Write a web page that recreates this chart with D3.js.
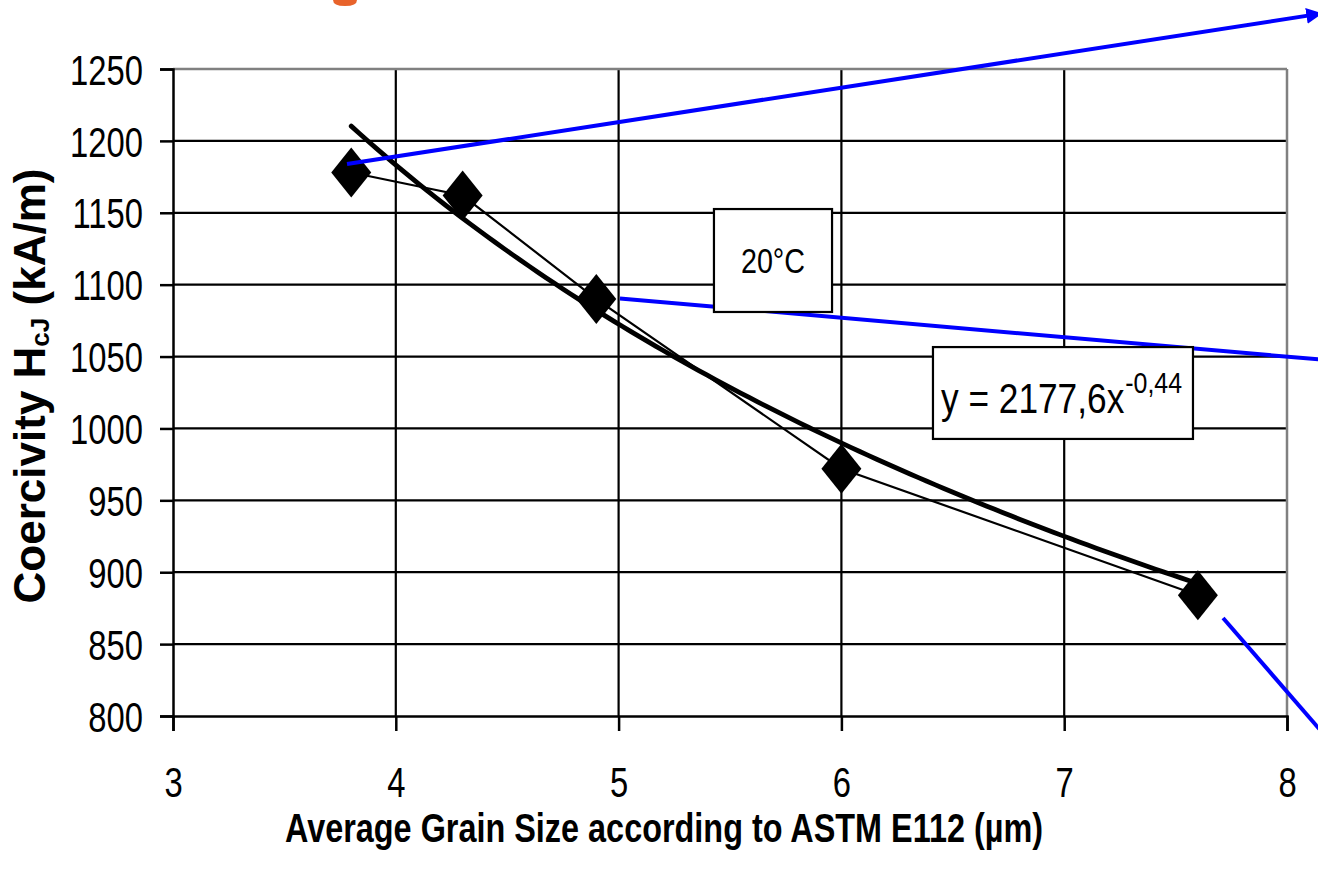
<!DOCTYPE html>
<html>
<head>
<meta charset="utf-8">
<script src="https://cdn.jsdelivr.net/npm/d3@7"></script>
<style>
  html, body { margin: 0; padding: 0; background: #fff; }
  svg { display: block; }
  text { font-family: "Liberation Sans", Arial, sans-serif; }
</style>
</head>
<body>
<svg id="chart" width="1318" height="886"></svg>
<script>
// Measured coercivity vs. average grain size (20 °C)
const grainSize = [3.8, 4.3, 4.9, 6.0, 7.6];
const coercivity = [1178, 1162, 1090, 972, 884];

// Power-law fit shown in the label: y = 2177.6 · x^-0.44
const fitA = 2177.6;
const fitB = -0.44;

// Axis ticks
const xTicks = [3, 4, 5, 6, 7, 8];
const yTicks = [800, 850, 900, 950, 1000, 1050, 1100, 1150, 1200, 1250];

// Callout arrows leading out of the chart (start and end in data units)
const callouts = [
  { from: [3.781, 1183.9], to: [8.13, 1288], head: true },
  { from: [5.006, 1090.4], to: [8.145, 1048.0], head: false },
  { from: [7.713, 868.2], to: [8.145, 791.0], head: false }
];

// Label boxes (corners in data units)
const labelTemp = { x0: 5.428, x1: 5.958, y0: 1152.6, y1: 1081.0, text: "20°C" };
const labelFit = { x0: 6.411, x1: 7.578, y0: 1056.6, y1: 992.7 };

const svg = d3.select("#chart");
const plotL = 173, plotR = 1287, plotT = 69, plotB = 716;

const x = d3.scaleLinear().domain([3, 8]).range([plotL, plotR]);
const y = d3.scaleLinear().domain([800, 1250]).range([plotB, plotT]);

// Squeeze text horizontally to a narrow face
function condense(sel, f) {
  sel.each(function () {
    const n = this.getComputedTextLength();
    this.setAttribute("textLength", n * f);
    this.setAttribute("lengthAdjust", "spacingAndGlyphs");
  });
}

// Bottom edge of the orange heading that sits above the chart
svg.append("path")
  .attr("d", "M333,0 Q333,6 345,6 Q357,6 357,0 Z")
  .attr("fill", "#e8632b");

// Grid
const grid = svg.append("g");
grid.selectAll("line.h")
  .data(yTicks.filter(d => d > 800 && d < 1250))
  .join("line")
  .attr("x1", plotL).attr("x2", plotR)
  .attr("y1", d => y(d)).attr("y2", d => y(d))
  .attr("stroke", "#000").attr("stroke-width", 2.2);
grid.selectAll("line.v")
  .data(xTicks.filter(d => d > 3 && d < 8))
  .join("line")
  .attr("y1", plotT).attr("y2", plotB)
  .attr("x1", d => x(d)).attr("x2", d => x(d))
  .attr("stroke", "#000").attr("stroke-width", 2.2);

// Plot-area frame (top and right in grey)
svg.append("line").attr("x1", plotL).attr("x2", plotR).attr("y1", plotT).attr("y2", plotT)
  .attr("stroke", "#808080").attr("stroke-width", 2.5);
svg.append("line").attr("x1", plotR).attr("x2", plotR).attr("y1", plotT).attr("y2", plotB)
  .attr("stroke", "#808080").attr("stroke-width", 2.5);

// Axes
const xAxis = d3.axisBottom(x).tickValues(xTicks).tickSize(15).tickPadding(36).tickFormat(d3.format("d"));
const yAxis = d3.axisLeft(y).tickValues(yTicks).tickSize(13).tickPadding(17).tickFormat(d3.format("d"));

const gx = svg.append("g").attr("transform", `translate(0,${plotB})`).call(xAxis);
const gy = svg.append("g").attr("transform", `translate(${plotL},0)`).call(yAxis);
[gx, gy].forEach(g => {
  g.attr("font-family", null).attr("font-size", null);
  g.select(".domain").attr("stroke", "#000").attr("stroke-width", 2.5);
  g.selectAll(".tick line").attr("stroke", "#000").attr("stroke-width", 2.5);
  g.selectAll(".tick text")
    .attr("font-size", 42)
    .attr("fill", "#000");
});
gx.selectAll(".tick text").attr("dy", "0.71em");
gy.selectAll(".tick text").attr("dy", "0.36em");
condense(gx.selectAll(".tick text"), 0.78);
condense(gy.selectAll(".tick text"), 0.78);

// Axis titles
const xTitle = svg.append("text")
  .attr("x", 664).attr("y", 842)
  .attr("text-anchor", "middle")
  .attr("font-size", 40).attr("font-weight", "bold")
  .text("Average Grain Size according to ASTM E112 (µm)");
condense(xTitle, 0.81);

const yTitle = svg.append("text")
  .attr("transform", "translate(45,386) rotate(-90)")
  .attr("text-anchor", "middle")
  .attr("font-size", 44).attr("font-weight", "bold");
yTitle.append("tspan").text("Coercivity H");
yTitle.append("tspan").attr("font-size", 26).attr("dy", 4).text("cJ");
yTitle.append("tspan").attr("dy", -4).text(" (kA/m)");

// Measured series joined by a thin line
const pts = grainSize.map((g, i) => [g, coercivity[i]]);
svg.append("path")
  .datum(pts)
  .attr("fill", "none")
  .attr("stroke", "#000").attr("stroke-width", 2.2)
  .attr("d", d3.line().x(d => x(d[0])).y(d => y(d[1])));

// Power trend line over the measured range
const fitPts = d3.range(0, 101).map(i => {
  const g = grainSize[0] + (grainSize[grainSize.length - 1] - grainSize[0]) * i / 100;
  return [g, fitA * Math.pow(g, fitB)];
});
svg.append("path")
  .datum(fitPts)
  .attr("fill", "none")
  .attr("stroke", "#000").attr("stroke-width", 4.8)
  .attr("stroke-linecap", "round")
  .attr("d", d3.line().x(d => x(d[0])).y(d => y(d[1])));

// Diamond markers
svg.append("g").selectAll("path")
  .data(pts)
  .join("path")
  .attr("transform", d => `translate(${x(d[0])},${y(d[1])})`)
  .attr("d", "M0,-25L20,0L0,25L-20,0Z")
  .attr("fill", "#000");

// Blue callout lines
const defs = svg.append("defs");
defs.append("marker")
  .attr("id", "arrow")
  .attr("viewBox", "0 0 10 10")
  .attr("refX", 6).attr("refY", 5)
  .attr("markerWidth", 4).attr("markerHeight", 4)
  .attr("orient", "auto")
  .append("path").attr("d", "M0,0L10,5L0,10Z").attr("fill", "#0000ff");

svg.append("g").selectAll("line")
  .data(callouts)
  .join("line")
  .attr("x1", d => x(d.from[0])).attr("y1", d => y(d.from[1]))
  .attr("x2", d => x(d.to[0])).attr("y2", d => y(d.to[1]))
  .attr("stroke", "#0000ff").attr("stroke-width", 4)
  .attr("marker-end", d => d.head ? "url(#arrow)" : null);

// Label boxes
function box(b) {
  svg.append("rect")
    .attr("x", x(b.x0)).attr("y", y(b.y0))
    .attr("width", x(b.x1) - x(b.x0)).attr("height", y(b.y1) - y(b.y0))
    .attr("fill", "#fff").attr("stroke", "#000").attr("stroke-width", 2.2);
}
box(labelTemp);
const tempText = svg.append("text")
  .attr("x", (x(labelTemp.x0) + x(labelTemp.x1)) / 2)
  .attr("y", (y(labelTemp.y0) + y(labelTemp.y1)) / 2 + 12)
  .attr("text-anchor", "middle")
  .attr("font-size", 35)
  .text(labelTemp.text);
condense(tempText, 0.82);

// Fit equation: base text plus a raised exponent
box(labelFit);
const eqX = x(labelFit.x0) + 8;
const eqY = y(labelFit.y1) - 26;
const eq = svg.append("text")
  .attr("x", eqX).attr("y", eqY)
  .attr("font-size", 43)
  .text("y = " + fitA.toFixed(1).replace(".", ",") + "x");
condense(eq, 0.82);
const eqEnd = eqX + (+eq.attr("textLength"));
const expText = svg.append("text")
  .attr("x", eqEnd + 1).attr("y", eqY - 20)
  .attr("font-size", 30)
  .text(String(fitB).replace(".", ","));
condense(expText, 0.83);
</script>
</body>
</html>
